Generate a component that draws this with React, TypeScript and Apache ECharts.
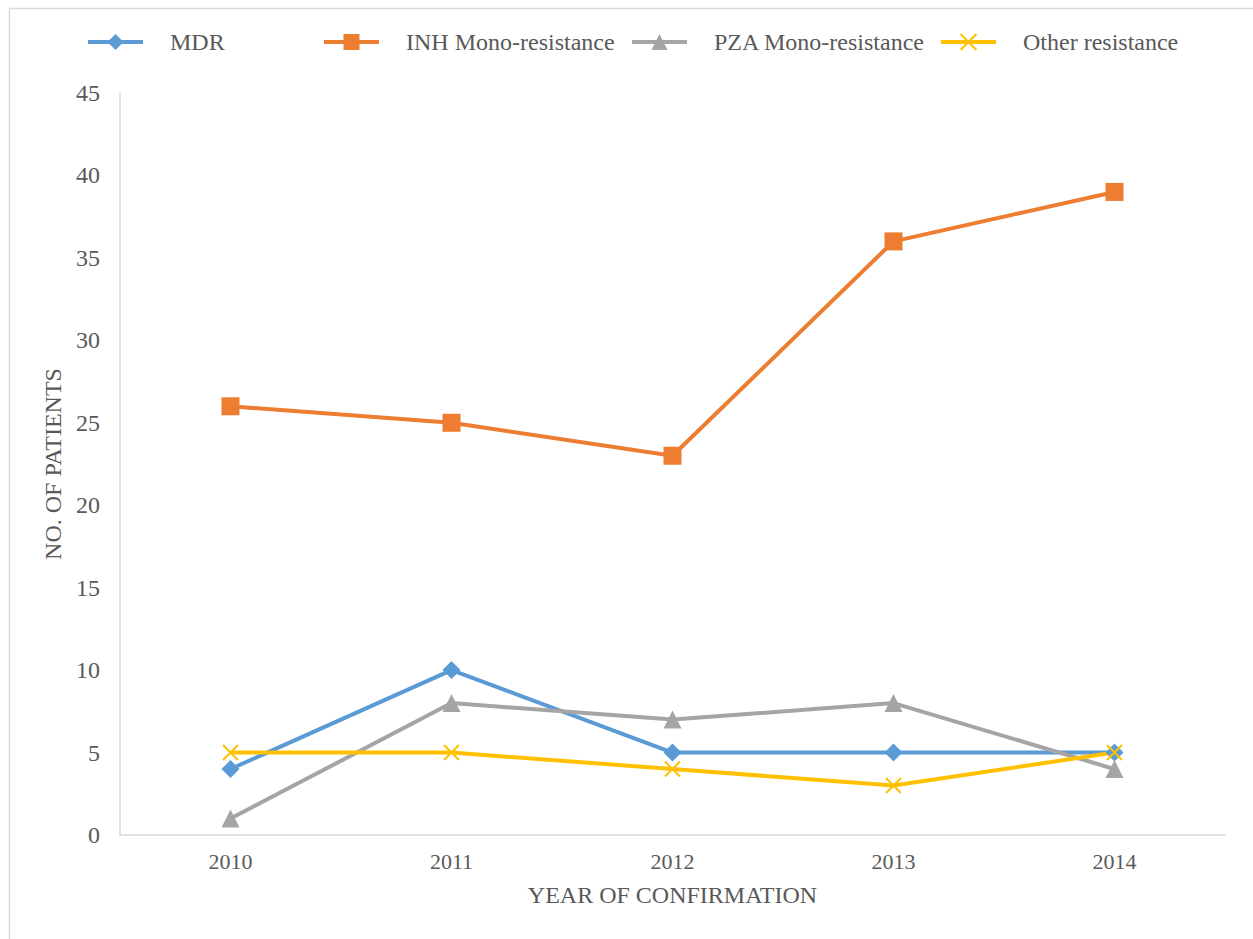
import React, { useEffect, useRef } from "react";
import * as echarts from "echarts";

const years = ["2010", "2011", "2012", "2013", "2014"];
const mdr = [4, 10, 5, 5, 5];
const inh = [26, 25, 23, 36, 39];
const pza = [1, 8, 7, 8, 4];
const other = [5, 5, 4, 3, 5];

const seriesNames = ["MDR", "INH Mono-resistance", "PZA Mono-resistance", "Other resistance"];
const legendLefts = [81, 317, 625, 934];

const FONT = "'Liberation Serif', 'Times New Roman', serif";
const TEXT = "#595959";
const AXIS = "#d9d9d9";

export default function App() {
  const ref = useRef<HTMLDivElement>(null);
  useEffect(() => {
    if (!ref.current) return;
    const chart = echarts.init(ref.current, null, { renderer: "svg" });
    const mk = (name: string, data: number[], color: string, symbol: string, size: number, extra: any = {}) => ({
      name,
      type: "line",
      data,
      symbol,
      symbolSize: size,
      lineStyle: { color, width: 4 },
      itemStyle: { color, ...extra },
      emphasis: { disabled: true },
    });
    chart.setOption({
      animation: false,
      backgroundColor: "#ffffff",
      textStyle: { fontFamily: FONT },
      graphic: [
        {
          type: "rect",
          left: 7,
          top: 6,
          shape: { x: 0, y: 0, width: 1300, height: 1000 },
          style: { fill: "none", stroke: AXIS, lineWidth: 1.5 },
          silent: true,
        },
      ],
      legend: seriesNames.map((n, i) => ({
        data: [n],
        left: legendLefts[i],
        top: 25,
        itemWidth: 55,
        itemHeight: 20,
        lineStyle: { width: 4 },
        textStyle: { fontSize: 24, color: TEXT, fontFamily: FONT, padding: [0, 0, 0, 22] },
      })),
      grid: { left: 120, right: 28, top: 93, bottom: 104 },
      xAxis: {
        type: "category",
        data: years,
        boundaryGap: true,
        axisLine: { lineStyle: { color: AXIS, width: 1.5 } },
        axisTick: { show: false },
        axisLabel: { fontSize: 22, color: TEXT, fontFamily: FONT, margin: 15 },
        name: "YEAR OF CONFIRMATION",
        nameLocation: "middle",
        nameGap: 48,
        nameTextStyle: { fontSize: 24, color: TEXT, fontFamily: FONT },
      },
      yAxis: {
        type: "value",
        min: 0,
        max: 45,
        interval: 5,
        axisLine: { show: true, lineStyle: { color: AXIS, width: 1.5 } },
        axisTick: { show: false },
        splitLine: { show: false },
        axisLabel: { fontSize: 24, color: TEXT, fontFamily: FONT, margin: 20 },
        name: "NO. OF PATIENTS",
        nameLocation: "middle",
        nameGap: 52,
        nameRotate: 90,
        nameTextStyle: { fontSize: 24, color: TEXT, fontFamily: FONT },
      },
      series: [
        mk(seriesNames[0], mdr, "#5B9BD5", "diamond", 18),
        mk(seriesNames[1], inh, "#ED7D31", "rect", 18),
        mk(seriesNames[2], pza, "#A5A5A5", "triangle", 18),
        mk(seriesNames[3], other, "#FFC000", "path://M0,0L10,10M10,0L0,10", 15, {
          borderColor: "#FFC000",
          borderWidth: 2,
        }),
      ],
    });
    return () => chart.dispose();
  }, []);
  return (
    <div
      ref={ref}
      style={{ position: "fixed", left: 0, top: 0, width: 1253, height: 939 }}
    />
  );
}
